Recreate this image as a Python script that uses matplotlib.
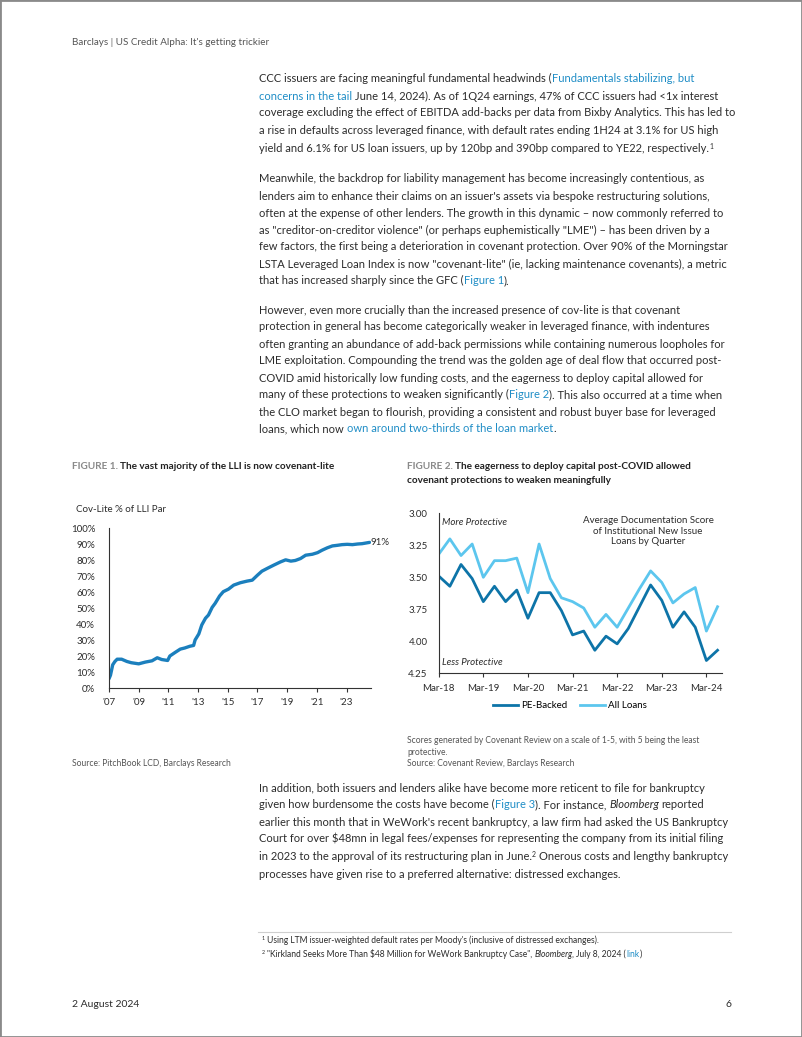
import numpy as np
import matplotlib.pyplot as plt
from matplotlib.patches import Rectangle
from matplotlib.lines import Line2D

plt.rcParams['font.family'] = ['Lato', 'DejaVu Sans']

# Figure 1: cov-lite share of LLI par
cov_years = [2007.0, 2007.1, 2007.25, 2007.4, 2007.55, 2007.85, 2008.2, 2008.5,
             2009.0, 2009.45, 2009.9, 2010.25, 2010.55, 2010.95, 2011.1, 2011.45,
             2011.8, 2012.1, 2012.45, 2012.7, 2012.8, 2013.05, 2013.25, 2013.5,
             2013.7, 2013.95, 2014.15, 2014.45, 2014.7, 2015.05, 2015.4, 2015.85,
             2016.3, 2016.65, 2017.0, 2017.3, 2017.65, 2018.1, 2018.55, 2018.9,
             2019.25, 2019.55, 2019.9, 2020.25, 2020.7, 2021.05, 2021.35, 2021.7,
             2022.05, 2022.4, 2022.7, 2023.05, 2023.4, 2023.75, 2024.05, 2024.55]
cov_share = [5.8, 8.0, 14.5, 16.6, 18.0, 18.0, 16.6, 15.8,
             15.1, 16.2, 17.0, 18.9, 17.8, 17.2, 20.0, 22.2,
             24.3, 25.0, 26.1, 26.6, 30.0, 33.8, 39.4, 43.6,
             45.6, 50.4, 52.9, 57.5, 60.2, 61.8, 64.3, 65.8,
             66.8, 67.4, 70.5, 73.0, 74.7, 76.8, 78.8, 80.1,
             79.3, 79.7, 80.9, 83.0, 83.6, 84.6, 86.1, 87.6,
             88.8, 89.2, 89.6, 89.8, 89.6, 90.0, 90.2, 91.0]
cov_ticks = [2007, 2009, 2011, 2013, 2015, 2017, 2019, 2021, 2023]
cov_tick_labels = ["'07", "'09", "'11", "'13", "'15", "'17", "'19", "'21", "'23"]

# Figure 2: documentation scores by quarter, Mar-18 .. Jun-24
pe_backed = [3.49, 3.57, 3.40, 3.51, 3.69, 3.57, 3.69, 3.60, 3.82, 3.62, 3.62, 3.76, 3.95,
             3.92, 4.07, 3.96, 4.02, 3.90, 3.73, 3.56, 3.68, 3.89, 3.77, 3.89, 4.15, 4.07]
all_loans = [3.32, 3.20, 3.33, 3.24, 3.50, 3.37, 3.37, 3.35, 3.62, 3.24, 3.51, 3.66, 3.69,
             3.74, 3.89, 3.79, 3.89, 3.74, 3.59, 3.45, 3.54, 3.70, 3.63, 3.58, 3.92, 3.73]
doc_tick_labels = ['Mar-18', 'Mar-19', 'Mar-20', 'Mar-21', 'Mar-22', 'Mar-23', 'Mar-24']
doc_yticks = [3.00, 3.25, 3.50, 3.75, 4.00, 4.25]

TEXT = '#2c2c2c'
LINK = '#1f8dc6'
GREY = '#8a8a8a'
BLUE1 = '#1b7fbd'
DARK = '#0d74a8'
LIGHT = '#5cc6ee'

W, H = 802, 1037
fig = plt.figure(figsize=(W / 100, H / 100), dpi=100)
renderer = fig.canvas.get_renderer()


def fx(x):
    return x / W


def fy(y):
    return 1 - y / H


def text_width(s, size, weight='normal', style='normal'):
    t = fig.text(0, 0, s, fontsize=size, fontweight=weight, fontstyle=style)
    w = t.get_window_extent(renderer).width
    t.remove()
    return w


def fit(s, target, weight='normal', style='normal'):
    return 10 * target / text_width(s, 10, weight, style)


def put_runs(x, y, runs, size, color=TEXT, weight='normal'):
    # y is the baseline in pixels from the top
    space = text_width('n n', size, weight) - text_width('nn', size, weight)
    for s, kind in runs:
        lead = len(s) - len(s.lstrip(' '))
        trail = len(s) - len(s.rstrip(' '))
        core = s.strip(' ')
        x += lead * space
        c, st, sz, yy, wt = color, 'normal', size, y, weight
        if kind == 'link':
            c = LINK
        elif kind == 'it':
            st = 'italic'
        elif kind == 'sup':
            sz = size * 0.62
            yy = y - size * 0.45
        elif kind == 'fig':
            c = GREY
        t = fig.text(fx(x), fy(yy), core, fontsize=sz, color=c, fontstyle=st,
                     fontweight=wt, ha='left', va='baseline')
        x += t.get_window_extent(renderer).width + trail * space


body = fit('LSTA Leveraged Loan Index is now "covenant-lite" (ie, lacking maintenance covenants), a metric', 467)
small = fit('Using LTM issuer-weighted default rates per Moody\'s (inclusive of distressed exchanges).', 334)
note = fit('Scores generated by Covenant Review on a scale of 1-5, with 5 being the least', 294)
head = fit("Barclays | US Credit Alpha: It's getting trickier", 196)
title = fit('FIGURE 2. The eagerness to deploy capital post-COVID allowed', 285, weight='bold')
tick = fit('Average Documentation Score', 132)

# page frame and header
fig.patches.append(Rectangle((0, 0), 1, 1, transform=fig.transFigure, fill=False,
                             edgecolor='#8a8a8a', lw=2))
fig.text(fx(72), fy(45), "Barclays | US Credit Alpha: It's getting trickier",
         fontsize=head, color='#555555', va='baseline')

paragraphs = [
    ([79, 96, 113, 130, 149], [
        [('CCC issuers are facing meaningful fundamental headwinds (', ''), ('Fundamentals stabilizing, but', 'link')],
        [('concerns in the tail', 'link'), (' June 14, 2024). As of 1Q24 earnings, 47% of CCC issuers had <1x interest', '')],
        [('coverage excluding the effect of EBITDA add-backs per data from Bixby Analytics. This has led to', '')],
        [('a rise in defaults across leveraged finance, with default rates ending 1H24 at 3.1% for US high', '')],
        [('yield and 6.1% for US loan issuers, up by 120bp and 390bp compared to YE22, respectively.', ''), ('1', 'sup')],
    ]),
    ([179, 196, 213, 230, 247, 264, 281], [
        [('Meanwhile, the backdrop for liability management has become increasingly contentious, as', '')],
        [("lenders aim to enhance their claims on an issuer's assets via bespoke restructuring solutions,", '')],
        [('often at the expense of other lenders. The growth in this dynamic \u2013 now commonly referred to', '')],
        [('as "creditor-on-creditor violence" (or perhaps euphemistically "LME") \u2013 has been driven by a', '')],
        [('few factors, the first being a deterioration in covenant protection. Over 90% of the Morningstar', '')],
        [('LSTA Leveraged Loan Index is now "covenant-lite" (ie, lacking maintenance covenants), a metric', '')],
        [('that has increased sharply since the GFC (', ''), ('Figure 1', 'link'), (').', '')],
    ]),
    ([310, 327, 344, 361, 378, 395, 412, 429], [
        [('However, even more crucially than the increased presence of cov-lite is that covenant', '')],
        [('protection in general has become categorically weaker in leveraged finance, with indentures', '')],
        [('often granting an abundance of add-back permissions while containing numerous loopholes for', '')],
        [('LME exploitation. Compounding the trend was the golden age of deal flow that occurred post-', '')],
        [('COVID amid historically low funding costs, and the eagerness to deploy capital allowed for', '')],
        [('many of these protections to weaken significantly (', ''), ('Figure 2', 'link'), ('). This also occurred at a time when', '')],
        [('the CLO market began to flourish, providing a consistent and robust buyer base for leveraged', '')],
        [('loans, which now ', ''), ('own around two-thirds of the loan market', 'link'), ('.', '')],
    ]),
    ([788, 805, 822, 839, 857, 874], [
        [('In addition, both issuers and lenders alike have become more reticent to file for bankruptcy', '')],
        [('given how burdensome the costs have become (', ''), ('Figure 3', 'link'), ('). For instance, ', ''),
         ('Bloomberg', 'it'), (' reported', '')],
        [("earlier this month that in WeWork's recent bankruptcy, a law firm had asked the US Bankruptcy", '')],
        [('Court for over \\$48mn in legal fees/expenses for representing the company from its initial filing', '')],
        [('in 2023 to the approval of its restructuring plan in June.', ''), ('2', 'sup'),
         (' Onerous costs and lengthy bankruptcy', '')],
        [('processes have given rise to a preferred alternative: distressed exchanges.', '')],
    ]),
]
for ys, lines in paragraphs:
    for y, runs in zip(ys, lines):
        put_runs(259, y + 3.5, runs, body)

# figure titles and sources
put_runs(72, 469, [('FIGURE 1.', 'fig'), (' The vast majority of the LLI is now covenant-lite', '')],
         title, color='#222222', weight='bold')
put_runs(407, 469, [('FIGURE 2.', 'fig'), (' The eagerness to deploy capital post-COVID allowed', '')],
         title, color='#222222', weight='bold')
put_runs(407, 483, [('covenant protections to weaken meaningfully', '')], title, color='#222222', weight='bold')

fig.text(fx(72), fy(766), 'Source: PitchBook LCD, Barclays Research', fontsize=note, color='#555555', va='baseline')
fig.text(fx(407), fy(743), 'Scores generated by Covenant Review on a scale of 1-5, with 5 being the least',
         fontsize=note, color='#555555', va='baseline')
fig.text(fx(407), fy(755), 'protective.', fontsize=note, color='#555555', va='baseline')
fig.text(fx(407), fy(766), 'Source: Covenant Review, Barclays Research', fontsize=note, color='#555555', va='baseline')

# Figure 1 chart
ax1 = fig.add_axes([fx(109), fy(688), (371 - 109) / W, (688 - 528) / H])
ax1.plot(cov_years, cov_share, color=BLUE1, lw=2.4, solid_capstyle='round')
ax1.set_xlim(2007, 2024.65)
ax1.set_ylim(0, 100)
ax1.set_yticks(range(0, 101, 10))
ax1.set_yticklabels([f'{v}%' for v in range(0, 101, 10)])
ax1.set_xticks(cov_ticks)
ax1.set_xticklabels(cov_tick_labels)
ax1.tick_params(axis='y', length=0, pad=10, labelsize=tick, labelcolor=TEXT)
ax1.tick_params(axis='x', length=3, width=0.8, pad=4, labelsize=tick, labelcolor=TEXT, color='#333333')
for side in ['top', 'right']:
    ax1.spines[side].set_visible(False)
for side in ['left', 'bottom']:
    ax1.spines[side].set_color('#333333')
    ax1.spines[side].set_linewidth(0.8)
ax1.text(cov_years[-1] + 0.1, cov_share[-1], f'{cov_share[-1]:.0f}%', fontsize=tick,
         color=TEXT, va='center', ha='left', clip_on=False)
fig.text(fx(76), fy(512), 'Cov-Lite % of LLI Par', fontsize=tick, color=TEXT, va='baseline')

# Figure 2 chart
quarters = np.arange(len(pe_backed))
ax2 = fig.add_axes([fx(438.7), fy(673.3), (722 - 438.7) / W, (673.3 - 513.3) / H])
l1, = ax2.plot(quarters, pe_backed, color=DARK, lw=2.0, label='PE-Backed')
l2, = ax2.plot(quarters, all_loans, color=LIGHT, lw=2.0, label='All Loans')
ax2.set_ylim(4.25, 3.00)
ax2.set_xlim(0, 25.4)
ax2.set_yticks(doc_yticks)
ax2.set_yticklabels([f'{v:.2f}' for v in doc_yticks])
ax2.set_xticks(quarters[::4])
ax2.set_xticklabels(doc_tick_labels)
ax2.tick_params(axis='y', length=0, pad=8, labelsize=tick, labelcolor=TEXT)
ax2.tick_params(axis='x', length=3, width=0.8, pad=5, labelsize=tick, labelcolor=TEXT, color='#333333')
for side in ['top', 'right']:
    ax2.spines[side].set_visible(False)
for side in ['left', 'bottom']:
    ax2.spines[side].set_color('#333333')
    ax2.spines[side].set_linewidth(0.8)
ax2.text(0.01, 0.94, 'More Protective', transform=ax2.transAxes, fontsize=tick,
         fontstyle='italic', color=TEXT, va='center')
ax2.text(0.012, 0.07, 'Less Protective', transform=ax2.transAxes, fontsize=tick,
         fontstyle='italic', color=TEXT, va='center')
ax2.text(0.739, 0.889, 'Average Documentation Score\nof Institutional New Issue\nLoans by Quarter',
         transform=ax2.transAxes, fontsize=tick, color=TEXT, ha='center', va='center',
         linespacing=1.25)
ax2.legend(handles=[l1, l2], loc='center', bbox_to_anchor=(fx(570), fy(706)),
           bbox_transform=fig.transFigure, ncol=2, frameon=False, fontsize=tick,
           handlelength=2.6, handletextpad=0.3, columnspacing=1.3)

# footnotes
fig.add_artist(Line2D([fx(258), fx(731)], [fy(932), fy(932)], color='#cfcfcf', lw=0.8))
put_runs(262, 943, [('1', 'sup'), (" Using LTM issuer-weighted default rates per Moody's (inclusive of distressed exchanges).", '')],
         small)
put_runs(262, 957, [('2', 'sup'), (' "Kirkland Seeks More Than \\$48 Million for WeWork Bankruptcy Case", ', ''),
                    ('Bloomberg', 'it'), (', July 8, 2024 (', ''), ('link', 'link'), (')', '')], small)

fig.text(fx(72), fy(1007), '2 August 2024', fontsize=head * 1.05, color=TEXT, va='baseline')
fig.text(fx(731), fy(1007), '6', fontsize=head * 1.05, color=TEXT, va='baseline', ha='right')

fig.savefig('out.png', dpi=100)
